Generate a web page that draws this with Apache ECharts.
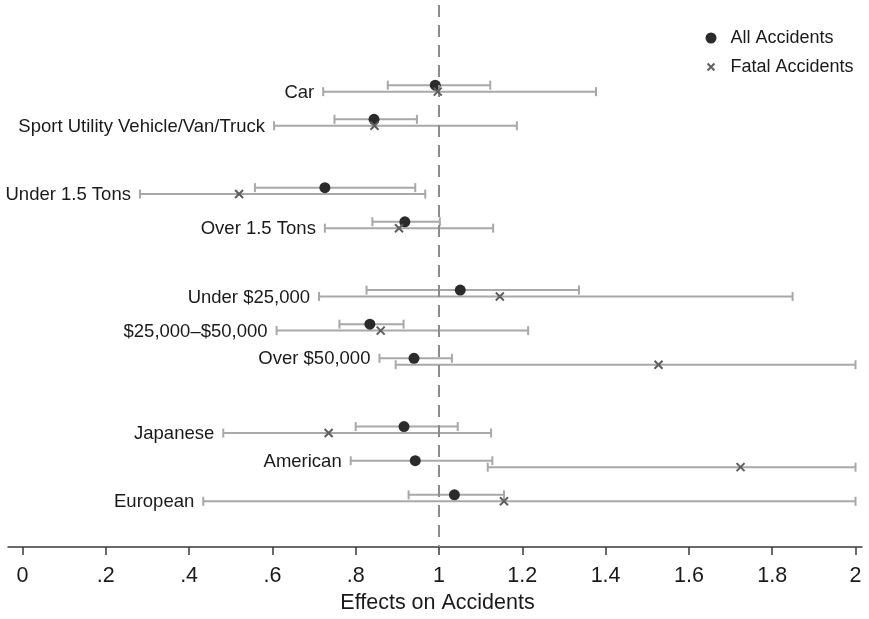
<!DOCTYPE html>
<html>
<head>
<meta charset="utf-8">
<script src="https://cdn.jsdelivr.net/npm/echarts@6/dist/echarts.min.js"></script>
<style>
  html, body { margin: 0; padding: 0; background: #fff; }
  #chart { width: 869px; height: 619px; }
</style>
</head>
<body>
<div id="chart"></div>
<script>
// Vehicle groups and their vertical slots (gaps separate the groups)
const categories = ['Car', 'Sport Utility Vehicle/Van/Truck', 'Under 1.5 Tons', 'Over 1.5 Tons',
  'Under $25,000', '$25,000–$50,000', 'Over $50,000', 'Japanese', 'American', 'European'];
const slots = [0, 1, 3, 4, 6, 7, 8, 10, 11, 12];

// All accidents: point estimate and confidence bounds
const allEst  = [0.991, 0.844, 0.726, 0.918, 1.051, 0.834, 0.940, 0.916, 0.943, 1.037];
const allLow  = [0.877, 0.749, 0.558, 0.840, 0.826, 0.761, 0.857, 0.800, 0.788, 0.927];
const allHigh = [1.123, 0.947, 0.943, 1.002, 1.336, 0.915, 1.031, 1.045, 1.128, 1.156];

// Fatal accidents: point estimate and confidence bounds
const fatalEst  = [0.997, 0.845, 0.520, 0.904, 1.146, 0.860, 1.527, 0.735, 1.724, 1.156];
const fatalLow  = [0.722, 0.604, 0.282, 0.726, 0.712, 0.610, 0.896, 0.482, 1.117, 0.434];
const fatalHigh = [1.377, 1.187, 0.967, 1.130, 1.849, 1.214, 2.000, 1.125, 2.000, 2.000];

const xTicks = [0, 0.2, 0.4, 0.6, 0.8, 1, 1.2, 1.4, 1.6, 1.8, 2];

const FONT = "'Liberation Sans', Arial, Helvetica, sans-serif";
const OFFSET = 0.094; // vertical shift between the two estimates of a group
const CI_COLOR = '#a8a8a8';
const CROSS = 'path://M0,0L10,10M10,0L0,10';
// same cross with empty margin so the legend icon stays small
const CROSS_ICON = 'path://M-3,-3M13,13M0,0L10,10M10,0L0,10';

function ciSeries(low, high, shift) {
  return {
    type: 'custom',
    silent: true,
    z: 2,
    data: slots.map((s, i) => [low[i], high[i], s + shift]),
    encode: { x: [0, 1], y: 2 },
    renderItem: function (params, api) {
      const a = api.coord([api.value(0), api.value(2)]);
      const b = api.coord([api.value(1), api.value(2)]);
      const h = 4.5;
      const st = { stroke: CI_COLOR, lineWidth: 2 };
      return {
        type: 'group',
        children: [
          { type: 'line', shape: { x1: a[0], y1: a[1], x2: b[0], y2: b[1] }, style: st },
          { type: 'line', shape: { x1: a[0], y1: a[1] - h, x2: a[0], y2: a[1] + h }, style: st },
          { type: 'line', shape: { x1: b[0], y1: b[1] - h, x2: b[0], y2: b[1] + h }, style: st }
        ]
      };
    }
  };
}

// Group labels sit just left of the lowest bound of each group
const labelData = slots.map((s, i) => {
  const useAll = allLow[i] < fatalLow[i];
  return [useAll ? allLow[i] : fatalLow[i], s + (useAll ? -OFFSET : OFFSET), i];
});

const chart = echarts.init(document.getElementById('chart'), null, { renderer: 'canvas' });

chart.setOption({
  animation: false,
  backgroundColor: '#ffffff',
  textStyle: { fontFamily: FONT },
  grid: { left: 8, right: 7, top: 5, bottom: 65 },
  legend: {
    data: [
      { name: 'All Accidents', icon: 'circle' },
      { name: 'Fatal Accidents', icon: CROSS_ICON, itemStyle: { color: 'none', borderColor: '#5e5e5e', borderWidth: 2 } }
    ],
    orient: 'vertical',
    left: 698,
    top: 24,
    itemWidth: 11,
    itemHeight: 11,
    itemGap: 11,
    selectedMode: false,
    textStyle: { fontSize: 18, color: '#1a1a1a', fontFamily: FONT, padding: [0, 0, 0, 9], lineHeight: 18 }
  },
  xAxis: {
    type: 'value',
    min: -0.0348,
    max: 2.0156,
    splitLine: { show: false },
    axisLine: { show: true, onZero: false, lineStyle: { color: '#3a3a3a', width: 1.5 } },
    axisTick: { show: true, length: 8, customValues: xTicks, lineStyle: { color: '#3a3a3a', width: 1.5 } },
    axisLabel: {
      customValues: xTicks,
      fontSize: 21.5,
      color: '#1a1a1a',
      margin: 18,
      fontFamily: FONT,
      formatter: function (v) {
        const r = Math.round(v * 10) / 10;
        let s = String(r);
        if (s.startsWith('0.')) s = s.slice(1);
        return s;
      }
    },
    name: 'Effects on Accidents',
    nameLocation: 'middle',
    nameGap: 45,
    nameTextStyle: { fontSize: 21.5, color: '#1a1a1a', fontFamily: FONT, padding: [0, 0, 0, 5] }
  },
  yAxis: {
    type: 'value',
    inverse: true,
    min: -2.4436,
    max: 13.433,
    show: false,
    splitLine: { show: false }
  },
  series: [
    ciSeries(fatalLow, fatalHigh, OFFSET),
    ciSeries(allLow, allHigh, -OFFSET),
    {
      // reference line at an effect of 1
      type: 'line',
      data: [],
      silent: true,
      markLine: {
        silent: true,
        symbol: 'none',
        label: { show: false },
        lineStyle: { color: '#8c8c8c', width: 2, type: [12, 8] },
        data: [{ xAxis: 1 }]
      },
      z: 1
    },
    {
      name: 'All Accidents',
      type: 'scatter',
      symbol: 'circle',
      symbolSize: 11,
      itemStyle: { color: '#2b2b2b', opacity: 1 },
      data: slots.map((s, i) => [allEst[i], s - OFFSET]),
      z: 4
    },
    {
      name: 'Fatal Accidents',
      type: 'scatter',
      symbol: CROSS,
      symbolSize: 8,
      itemStyle: { color: 'none', borderColor: '#5e5e5e', borderWidth: 2, opacity: 1 },
      data: slots.map((s, i) => [fatalEst[i], s + OFFSET]),
      z: 5
    },
    {
      type: 'custom',
      silent: true,
      data: labelData,
      encode: { x: 0, y: 1 },
      renderItem: function (params, api) {
        const p = api.coord([api.value(0), api.value(1)]);
        return {
          type: 'text',
          x: p[0] - 9,
          y: p[1] + 1,
          style: {
            text: categories[api.value(2)],
            align: 'right',
            verticalAlign: 'middle',
            fontSize: 18.5,
            fontFamily: FONT,
            fill: '#1a1a1a'
          }
        };
      },
      z: 6
    }
  ]
});
</script>
</body>
</html>
